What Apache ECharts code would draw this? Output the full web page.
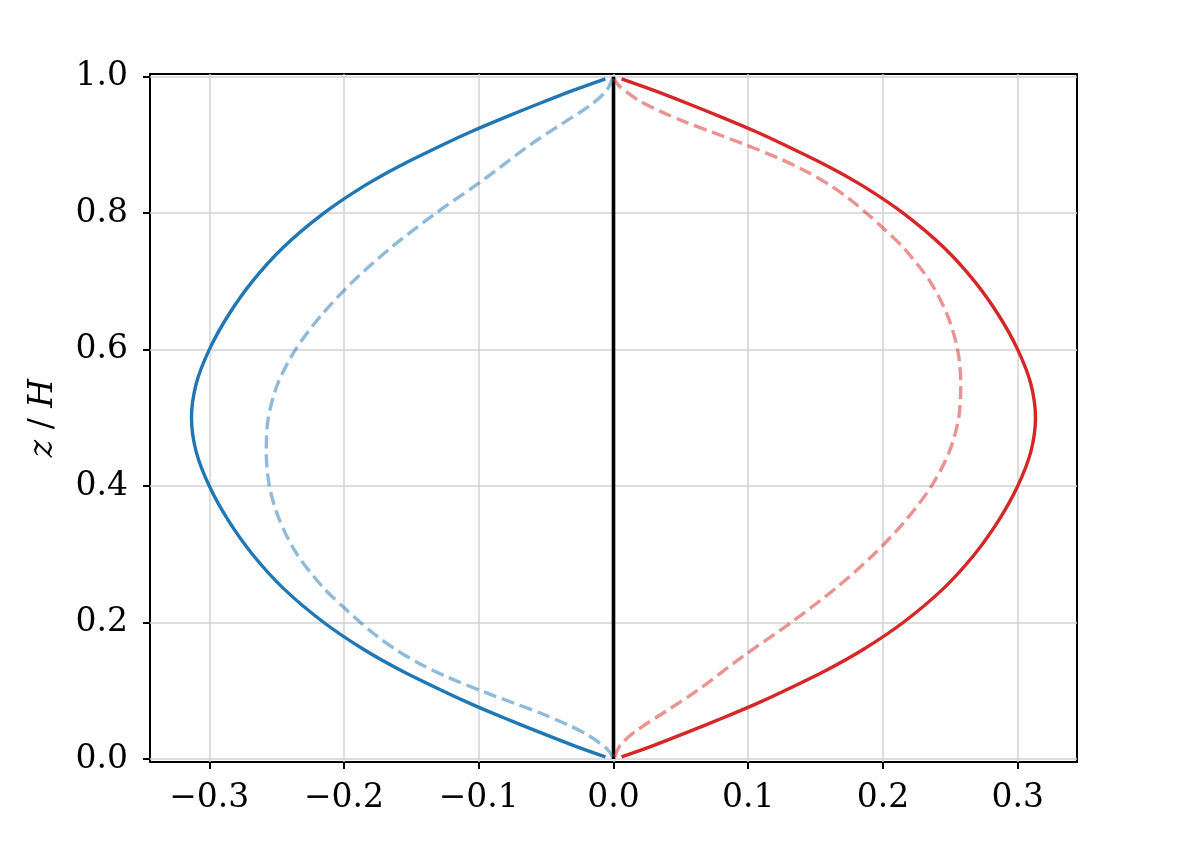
<!DOCTYPE html>
<html>
<head>
<meta charset="utf-8">
<script src="https://cdn.jsdelivr.net/npm/echarts@6/dist/echarts.min.js"></script>
<style>
html,body{margin:0;padding:0;background:#fff;}
#chart{width:1196px;height:862px;}
</style>
</head>
<body>
<div id="chart"></div>
<script>
// ---- data ----
const xTicks = [-0.3, -0.2, -0.1, 0.0, 0.1, 0.2, 0.3];
const yTicks = [0.0, 0.2, 0.4, 0.6, 0.8, 1.0];

const zSolid = [0.003, 0.02, 0.04, 0.06, 0.08, 0.10, 0.13, 0.16, 0.20, 0.25, 0.30, 0.35, 0.40, 0.45, 0.50,
                0.55, 0.60, 0.65, 0.70, 0.75, 0.80, 0.84, 0.87, 0.90, 0.92, 0.94, 0.96, 0.98, 0.997];
const blueSolid = [-0.006, -0.030, -0.056, -0.081, -0.105, -0.127, -0.158, -0.185, -0.215, -0.245, -0.268, -0.286, -0.300, -0.3097, -0.3132,
                   -0.3097, -0.300, -0.286, -0.268, -0.245, -0.215, -0.185, -0.158, -0.127, -0.105, -0.081, -0.056, -0.030, -0.006];
const redSolid = [0.006, 0.030, 0.056, 0.081, 0.105, 0.127, 0.158, 0.185, 0.215, 0.245, 0.268, 0.286, 0.300, 0.3097, 0.3132,
                  0.3097, 0.300, 0.286, 0.268, 0.245, 0.215, 0.185, 0.158, 0.127, 0.105, 0.081, 0.056, 0.030, 0.006];

const zBlueDashed = [0.003, 0.015, 0.035, 0.05, 0.067, 0.08, 0.10, 0.12, 0.14, 0.16, 0.18, 0.20, 0.22, 0.25, 0.30, 0.35, 0.40, 0.45, 0.50,
                     0.55, 0.60, 0.65, 0.70, 0.75, 0.80, 0.85, 0.90, 0.93, 0.96, 0.98, 0.997];
const blueDashed = [-0.0005, -0.005, -0.019, -0.034, -0.054, -0.0716, -0.0984, -0.1232, -0.1442, -0.1614, -0.1756, -0.1878, -0.199, -0.2149, -0.2349, -0.2479, -0.2554, -0.2577, -0.2562,
                    -0.2492, -0.236, -0.217, -0.1933, -0.1648, -0.1318, -0.0958, -0.062, -0.039, -0.016, -0.005, -0.001];

const zRedDashed = [0.003, 0.02, 0.04, 0.07, 0.10, 0.15, 0.20, 0.25, 0.30, 0.35, 0.40, 0.45, 0.50, 0.55, 0.60, 0.65, 0.70, 0.75,
                    0.78, 0.80, 0.82, 0.84, 0.86, 0.88, 0.90, 0.92, 0.933, 0.95, 0.965, 0.985, 0.997];
const redDashed = [0.001, 0.005, 0.016, 0.039, 0.062, 0.0958, 0.1318, 0.1648, 0.1933, 0.217, 0.236, 0.2492, 0.2562, 0.2577, 0.2554, 0.2479, 0.2349, 0.2149,
                   0.199, 0.1878, 0.1756, 0.1614, 0.1442, 0.1232, 0.0984, 0.0716, 0.054, 0.034, 0.019, 0.005, 0.0005];

const zZero = [0.0, 1.0];
const xZero = [0.0, 0.0];

// ---- build ----
const pairs = (xs, zs) => xs.map((x, i) => [x, zs[i]]);
const FONT = "'DejaVu Serif', serif";
const fmtX = v => (v < 0 ? '\u2212' : '') + Math.abs(v).toFixed(1);
const GRIDC = '#d2d2d2';

const chart = echarts.init(document.getElementById('chart'), null, {renderer: 'canvas'});
const lineBase = {type: 'line', symbol: 'none', smooth: 0.3, clip: false, silent: true, animation: false};

chart.setOption({
  backgroundColor: '#ffffff',
  animation: false,
  grid: {left: 150, right: 119, top: 74, bottom: 100, show: true, borderColor: '#000', borderWidth: 2, backgroundColor: 'transparent'},
  xAxis: {
    type: 'value', min: -0.344, max: 0.344, splitNumber: 5,
    axisLine: {show: false, onZero: false},
    axisTick: {show: true, customValues: xTicks, length: 7, lineStyle: {color: '#000', width: 2}},
    axisLabel: {customValues: xTicks, formatter: fmtX, fontFamily: FONT, fontSize: 33, color: '#000', margin: 20},
    splitLine: {show: true, lineStyle: {color: GRIDC, width: 1.5}}
  },
  yAxis: {
    type: 'value', min: -0.0045, max: 1.004, splitNumber: 5,
    name: '{i|z} / {i|H}', nameLocation: 'middle', nameGap: 90, nameRotate: 90,
    nameTextStyle: {fontFamily: FONT, fontSize: 33, color: '#000', rich: {i: {fontFamily: FONT, fontStyle: 'italic', fontSize: 33, color: '#000'}}},
    axisLine: {show: false, onZero: false},
    axisTick: {show: true, customValues: yTicks, length: 7, lineStyle: {color: '#000', width: 2}},
    axisLabel: {customValues: yTicks, formatter: v => v.toFixed(1), fontFamily: FONT, fontSize: 33, color: '#000', margin: 22},
    splitLine: {show: true, lineStyle: {color: GRIDC, width: 1.5}}
  },
  series: [
    Object.assign({}, lineBase, {smooth: false, data: pairs(xZero, zZero), lineStyle: {color: '#000', width: 3.6}}),
    Object.assign({}, lineBase, {data: pairs(blueSolid, zSolid), lineStyle: {color: '#1f77b4', width: 3.4}}),
    Object.assign({}, lineBase, {data: pairs(blueDashed, zBlueDashed), lineStyle: {color: '#1f77b4', width: 3.4, opacity: 0.5, type: [13, 6]}}),
    Object.assign({}, lineBase, {data: pairs(redSolid, zSolid), lineStyle: {color: '#d62728', width: 3.4}}),
    Object.assign({}, lineBase, {data: pairs(redDashed, zRedDashed), lineStyle: {color: '#d62728', width: 3.4, opacity: 0.5, type: [13, 6]}})
  ]
});
</script>
</body>
</html>
